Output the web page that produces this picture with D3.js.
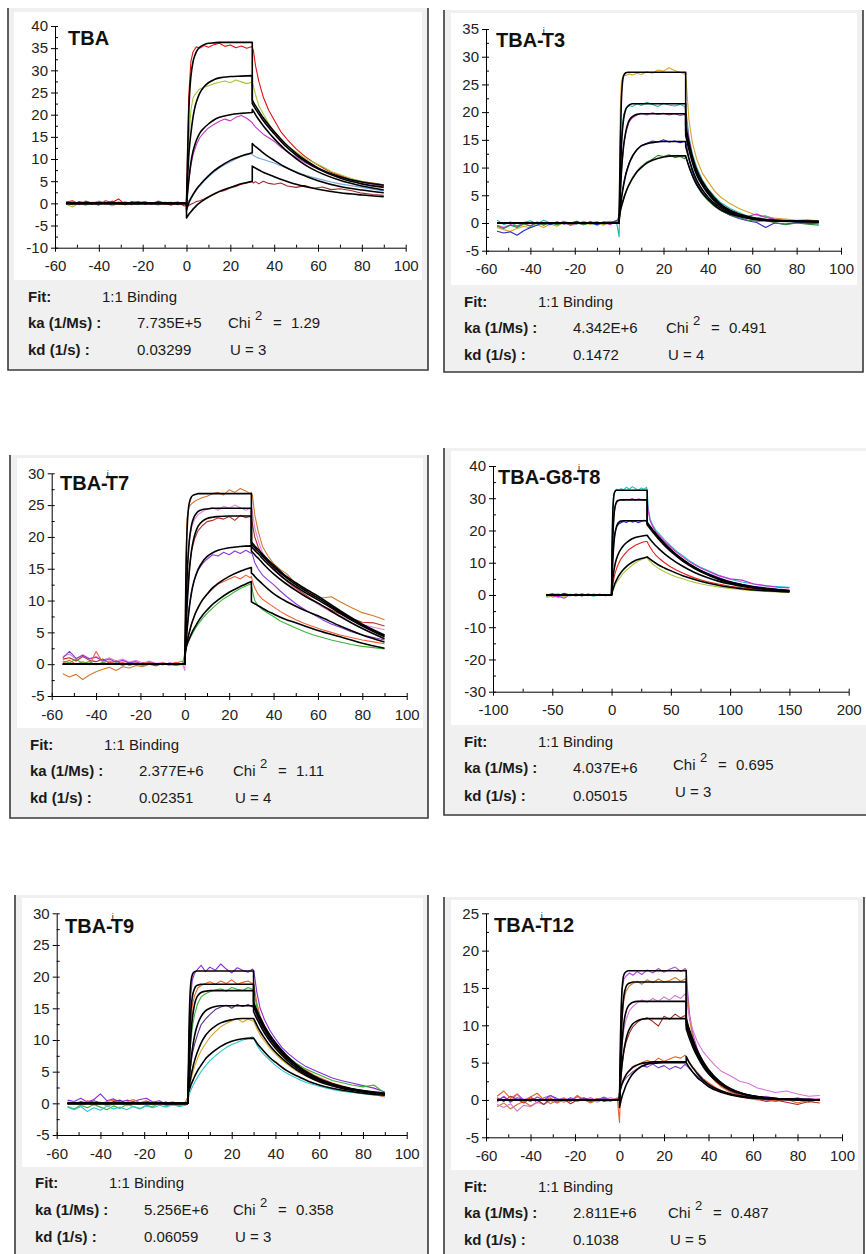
<!DOCTYPE html>
<html>
<head>
<meta charset="utf-8">
<script src="https://cdn.jsdelivr.net/npm/d3@7"></script>
<style>
  body { margin: 0; background: #fff; }
  svg { display: block; }
  text { font-family: "Liberation Sans", Arial, sans-serif; }
</style>
</head>
<body>
<svg id="chart" width="866" height="1254"></svg>
<script>
/**********************
***** TIME GRIDS *****
**********************/
// sampled times (s) of the measured curves
const tData = [-55,-52,-49,-46,-43,-40,-37,-34,-31,-28,-25,-22,-19,-16,-13,-10,-7,-4,-1,
  0,0.5,1,2,3,4.5,6,8,10,12.5,15,17.5,20,22.5,25,27.5,29.5,
  30,30.5,31.5,33,35,37.5,40,43,46,50,54,58,62,66,70,75,80,85,90];
const tData4 = [-55,-50,-45,-40,-35,-30,-25,-20,-15,-10,-5,
  0,0.5,1,2,3,4.5,6,8,10,12.5,15,17.5,20,22.5,25,27.5,29.5,
  30,31,32.5,35,37.5,40,45,50,55,60,65,70,75,80,90,100,110,120,130,140,150];
// times of the fitted curves (association / dissociation)
const tFitOn = [0,0.5,1,1.5,2,3,4,5,6,8,10,12.5,15,20,25,30];
const tFitOff = [30,31,32,33.5,35,37.5,40,45,50,55,60,70,80,90];
const tFitOff4 = [30,31,32.5,35,37.5,40,45,50,60,70,80,90,100,115,130,150];

/**********************
***** TICKS *****
**********************/
const xTicks = [-60,-40,-20,0,20,40,60,80,100];
const xMinor = [-50,-30,-10,10,30,50,70,90];
const xTicks4 = [-100,-50,0,50,100,150,200];
const xMinor4 = [-75,-25,25,75,125,175];
const yTicks1 = [-10,-5,0,5,10,15,20,25,30,35,40];
const yMinor1 = [-7.5,-2.5,2.5,7.5,12.5,17.5,22.5,27.5,32.5,37.5];
const yTicks2 = [-5,0,5,10,15,20,25,30,35];
const yMinor2 = [-2.5,2.5,7.5,12.5,17.5,22.5,27.5,32.5];
const yTicks3 = [-5,0,5,10,15,20,25,30];
const yMinor3 = [-2.5,2.5,7.5,12.5,17.5,22.5,27.5];
const yTicks4 = [-30,-20,-10,0,10,20,30,40];
const yMinor4 = [-25,-15,-5,5,15,25,35];
const yTicks6 = [-5,0,5,10,15,20,25];
const yMinor6 = [-2.5,2.5,7.5,12.5,17.5,22.5];

/**********************
***** TEXTS *****
**********************/
const titleMain = ["TBA", "TBA-", "TBA-", "TBA-G8-", "TBA-", "TBA-"];
const titleMod = ["", "T3", "T7", "T8", "T9", "T12"];
const fitModel = ["1:1 Binding","1:1 Binding","1:1 Binding","1:1 Binding","1:1 Binding","1:1 Binding"];
const kaValues = ["7.735E+5", "4.342E+6", "2.377E+6", "4.037E+6", "5.256E+6", "2.811E+6"];
const kdValues = ["0.03299", "0.1472", "0.02351", "0.05015", "0.06059", "0.1038"];
const chi2Values = ["1.29", "0.491", "1.11", "0.695", "0.358", "0.487"];
const uValues = ["3", "4", "4", "3", "3", "5"];

/**********************
***** TBA *****
**********************/
const tbaData = [
  [0.3,0.6,-0.2,0.5,0.1,-0.4,0.6,0.2,1.0,-0.3,0.4,0.0,0.3,-0.2,0.5,0.1,-0.4,0.3,-0.6, -0.5,12,24,32,34.2,35.3,35.0,35.6,35.2,35.8,36.1,35.4,35.7,35.1,35.5,35.0,35.3, 35.2,34.5,31,27.5,24,21,18.8,16.2,14.4,12.3,10.6,9.2,8.1,7.0,6.3,5.5,4.9,4.6,4.2],
  [-0.2,-0.8,0.1,-0.5,0.3,-0.3,0.2,-0.6,0.1,0.4,-0.2,0.3,-0.1,0.2,-0.4,0.1,0.3,-0.2,0.0, 0.2,6,14,21,23.8,25.0,25.8,26.2,26.5,27.0,27.3,27.6,27.2,27.8,27.4,27.0,27.3, 27.2,26.5,24.5,22.0,20.2,18.0,16.2,14.5,13.0,11.6,10.2,9.2,8.3,7.2,6.5,5.6,5.0,4.5,4.0],
  [0.1,0.4,-0.3,0.2,-0.1,0.5,0.0,-0.2,0.3,0.1,-0.3,0.2,0.4,-0.1,0.2,-0.2,0.1,0.3,-0.1, 0.3,2.5,5,8.5,11,13.2,14.8,16.0,17.0,17.8,18.5,19.0,18.6,19.4,19.8,19.2,18.4, 18.2,17.8,17.2,16.5,15.6,14.8,14.0,12.7,11.6,10.4,9.2,8.2,7.4,6.6,6.0,5.3,4.8,4.3,3.8],
  [0.0,0.3,0.1,-0.3,0.2,0.4,-0.1,0.2,-0.2,0.3,0.0,-0.3,0.2,0.1,-0.2,0.3,0.0,-0.1,0.2, 0.0,0.3,0.6,1.3,2.0,3.0,3.9,5.0,6.0,7.0,8.0,8.7,9.4,10.0,10.6,10.9,11.2, 11.0,10.8,10.5,10.2,9.9,9.5,9.1,8.5,7.9,7.1,6.4,5.8,5.3,4.8,4.4,4.0,3.6,3.2,2.8],
  [0.2,-0.3,0.4,0.1,-0.2,0.3,-0.1,0.5,0.0,-0.3,0.2,0.4,-0.2,0.1,0.3,-0.1,0.2,-0.3,0.1, 0.0,-0.3,-0.5,-0.2,0.0,0.4,0.6,1.0,1.5,2.0,2.6,2.9,3.5,3.8,4.3,4.6,4.8, 4.9,4.6,4.9,4.4,5.0,4.5,4.3,4.6,3.9,3.6,4.0,3.4,3.7,3.1,3.3,2.9,2.3,2.0,1.8]
];
const tbaFitOn = [
  [0,11,20,25.5,28.6,32,33.6,34.6,35.2,35.8,36.1,36.2,36.3,36.3,36.3,36.3],
  [0,6,10.5,13.5,15.8,19.5,22,23.6,24.8,26.3,27.2,27.9,28.3,28.6,28.7,28.8],
  [-0.5,2.5,5,7.3,9.2,11.8,13.5,14.8,15.8,17.0,17.9,18.8,19.4,20.0,20.3,20.5],
  [-1.5,-0.7,0.0,0.6,1.1,2.0,2.8,3.5,4.1,5.2,6.2,7.3,8.2,9.7,10.7,11.4],
  [-3.3,-2.9,-2.5,-2.2,-1.9,-1.3,-0.8,-0.3,0.1,0.8,1.4,2.1,2.7,3.6,4.4,5.0]
];
const tbaFitOff = [
  [23.3,22.4,21.6,20.4,19.3,17.7,16.2,13.5,11.3,9.5,8.0,6.0,4.8,4.1],
  [22.5,21.7,20.9,19.8,18.7,17.1,15.7,13.0,10.9,9.2,7.8,5.7,4.4,3.6],
  [21.2,20.4,19.6,18.5,17.5,16.0,14.6,12.1,10.1,8.4,7.1,5.2,3.9,3.0],
  [13.5,13.0,12.6,12.0,11.4,10.5,9.7,8.2,7.0,6.0,5.1,3.8,3.0,2.4],
  [8.4,8.1,7.8,7.4,7.0,6.5,6.0,5.1,4.3,3.7,3.2,2.4,1.9,1.5]
];

/**********************
***** TBA-iT3 *****
**********************/
const t3Data = [
  [-0.8,-1.2,-1.5,-1.0,-0.6,-0.9,-0.3,-0.8,-0.2,-0.6,0.1,-0.4,-0.2,0.3,-0.3,0.1,-0.4,0.2,0.3, 0.5,20,25.5,26.8,26.6,26.9,26.7,27.0,26.8,27.3,27.0,27.6,27.4,28.0,27.5,27.2,26.9, 26.5,24,18.5,14.5,11.5,9.0,7.5,5.8,4.6,3.5,2.6,2.0,1.4,1.2,0.9,0.7,0.5,0.6,0.3],
  [0.5,-0.3,0.2,-0.6,0.1,0.4,-0.2,0.5,0.0,-0.3,0.3,0.0,-0.2,0.2,0.0,-0.4,0.1,0.3,-0.2, -2.5,9,15,19.5,20.6,21.2,21.0,21.5,21.2,21.8,21.4,21.0,21.6,21.3,21.1,21.4,21.0, 20.5,19,15.5,12.5,10.0,7.8,6.2,4.8,3.6,2.6,1.9,1.2,0.9,1.3,0.6,0.4,0.2,0.0,-0.2],
  [-0.4,-0.8,-0.3,-0.6,-0.1,-0.5,0.2,-0.3,0.1,-0.2,0.2,-0.4,0.0,-0.3,0.3,-0.2,0.1,-0.3,0.4, 0.5,5,9,14,16.2,18.3,19.0,19.5,19.8,19.5,19.9,19.6,19.8,19.5,19.7,19.4,19.6, 19.2,18,15,12,9.5,7.3,5.7,4.3,3.2,2.3,1.6,1.2,1.6,1.0,0.7,0.5,0.3,0.4,0.1],
  [-1.5,-1.8,-1.6,-2.2,-1.4,-0.8,-0.4,0.1,-0.3,0.2,-0.2,0.0,0.3,-0.2,0.1,-0.3,0.2,0.0,0.5, 0.8,2.5,4.5,7,9,10.8,12.2,13.2,14.0,14.4,14.8,14.6,15.0,14.6,14.8,14.5,14.7, 14.5,13.8,11.5,9.2,7.2,5.5,4.3,3.0,2.2,1.4,0.8,0.4,0.1,-0.8,0.0,-0.2,0.1,-0.1,0.0],
  [-0.6,-1.0,-0.4,-0.8,-0.2,-0.6,0.0,-0.4,0.1,-0.3,0.0,-0.2,0.1,-0.3,0.0,0.2,-0.2,0.1,0.0, 1.5,2.3,3.0,4.5,5.6,7.0,8.2,9.3,10.2,11.0,11.5,12.2,12.0,12.3,11.8,12.0,11.6, 12.0,11.4,10.2,8.5,6.8,5.2,4.1,3.0,2.2,1.5,1.0,0.5,0.3,0.4,0.1,-0.3,0.0,-0.2,-0.4]
];
const t3FitOn = [
  [0,14,22,25.3,26.5,27.1,27.2,27.2,27.2,27.2,27.2,27.2,27.2,27.2,27.2,27.2],
  [0,8,13.5,16.8,18.7,20.5,21.1,21.4,21.5,21.5,21.5,21.5,21.5,21.5,21.5,21.5],
  [0,5,9,11.8,13.8,16.5,18.0,18.8,19.2,19.6,19.7,19.7,19.7,19.7,19.7,19.7],
  [0.5,2.5,4.2,5.6,6.8,8.7,10.1,11.2,12.0,13.2,13.9,14.3,14.5,14.7,14.7,14.7],
  [1.0,2.0,2.9,3.6,4.3,5.5,6.5,7.3,8.0,9.2,10.0,10.8,11.3,11.9,12.1,12.1]
];
const t3FitOff = [
  [17.5,15.5,13.6,11.3,9.5,7.5,6.0,3.7,2.3,1.5,1.0,0.5,0.35,0.3],
  [16.5,14.6,12.9,10.7,9.0,7.1,5.6,3.4,2.1,1.4,0.9,0.45,0.3,0.25],
  [15.8,14.0,12.4,10.3,8.6,6.8,5.3,3.2,2.0,1.3,0.85,0.4,0.3,0.25],
  [13.8,12.3,10.9,9.1,7.7,6.0,4.7,2.9,1.8,1.2,0.8,0.4,0.3,0.25],
  [12.0,10.8,9.6,8.1,6.9,5.4,4.3,2.6,1.6,1.1,0.7,0.35,0.25,0.2]
];

/**********************
***** TBA-iT7 *****
**********************/
const t7Data = [
  [-1.5,-2.0,-1.6,-2.4,-1.7,-1.2,-0.8,-0.5,-1.0,-0.4,-0.6,-0.2,-0.4,0.0,-0.3,0.1,-0.2,0.2,0.5, 0.0,16,23,24.8,25.2,25.6,25.9,26.2,26.4,26.8,27.0,26.6,27.4,27.0,27.6,27.2,26.8, 27.0,26.5,23.5,21.0,18.5,17.0,15.8,14.9,14.2,12.6,11.8,11.0,10.4,10.6,9.8,8.9,8.1,7.6,7.0],
  [1.2,1.6,0.8,1.5,0.9,1.2,0.6,1.0,0.5,0.8,0.3,0.6,0.2,0.5,0.1,0.3,-0.1,0.2,0.0, -1.0,8,14.5,19.5,21.5,22.8,23.5,24.0,24.4,24.6,24.2,24.8,24.5,25.0,24.6,24.2,24.5, 24.5,23.8,21.5,19.5,17.5,16.2,15.2,14.1,13.1,11.8,10.8,9.9,9.0,8.2,7.6,6.9,6.2,5.8,5.4],
  [0.8,1.0,0.5,1.2,0.6,0.4,0.8,0.2,0.5,0.0,0.3,-0.1,0.2,0.0,-0.2,0.1,0.0,-0.2,0.1, 0.0,5,10,15,17.8,19.8,21.0,21.8,22.4,22.6,23.0,22.8,23.2,22.6,23.4,23.0,23.2, 23.0,22.0,20.0,18.5,17.0,16.0,15.0,14.0,13.0,12.0,11.0,10.0,9.2,8.5,7.9,7.2,6.6,6.5,6.0],
  [1.0,2.0,0.9,1.4,0.8,1.1,0.5,0.8,0.3,0.6,0.2,0.4,0.0,0.3,0.1,-0.1,0.2,0.0,-0.1, 0.5,3,5.5,9,11.5,13.5,14.8,15.8,16.5,17.2,17.0,17.6,17.2,17.8,17.4,17.9,17.5, 17.5,17.2,16.0,15.0,14.0,13.2,12.5,11.5,10.6,9.5,8.6,7.8,7.0,6.3,5.8,5.1,4.6,4.2,3.8],
  [0.2,0.6,0.0,0.4,-0.1,2.0,0.3,0.5,0.0,0.3,-0.2,0.2,0.0,0.4,-0.1,0.2,0.0,0.3,0.0, 1.0,2.5,3.5,5,6.2,7.8,9.0,10.2,11.0,11.8,12.6,13.0,13.4,13.8,13.4,14.0,13.6, 13.8,13.0,12.0,11.0,10.2,9.6,9.0,8.3,7.7,7.0,6.4,5.9,5.4,5.0,4.6,4.2,3.8,3.5,3.2],
  [0.5,0.2,0.8,0.1,0.4,-0.1,0.3,0.0,0.2,-0.2,0.1,0.0,-0.2,0.1,0.0,-0.1,0.1,-0.2,0.0, 1.8,2.2,3.0,3.8,4.5,5.5,6.3,7.2,8.0,8.8,9.6,10.3,10.8,11.4,11.9,12.3,12.6, 12.6,11.5,10.0,9.2,8.6,8.0,7.5,6.8,6.3,5.7,5.1,4.6,4.2,3.8,3.5,3.1,2.8,2.6,2.4]
];
const t7FitOn = [
  [0,14,21,24,25.3,26.3,26.6,26.7,26.8,26.8,26.8,26.8,26.8,26.8,26.8,26.8],
  [0,8,13.5,17,19.3,21.8,23.0,23.6,24.0,24.3,24.4,24.5,24.5,24.5,24.5,24.5],
  [0,5,9,12,14.5,17.8,19.7,20.9,21.7,22.5,22.9,23.1,23.2,23.3,23.3,23.3],
  [0.5,3,5.3,7.2,8.8,11.2,12.9,14.0,14.9,16.1,16.9,17.5,17.9,18.3,18.5,18.6],
  [1.5,2.5,3.5,4.3,5.0,6.3,7.3,8.2,8.9,10.1,11.0,12.0,12.7,13.8,14.6,15.2],
  [2.0,2.6,3.1,3.6,4.0,4.8,5.5,6.1,6.7,7.7,8.5,9.4,10.1,11.3,12.2,13.0]
];
const t7FitOff = [
  [19.2,18.8,18.4,17.9,17.3,16.4,15.6,14.0,12.8,11.7,10.7,8.4,6.3,4.6],
  [18.9,18.5,18.1,17.6,17.0,16.1,15.3,13.8,12.5,11.4,10.4,8.2,6.1,4.5],
  [18.5,18.1,17.7,17.2,16.6,15.7,14.9,13.4,12.2,11.1,10.1,8.0,6.0,4.3],
  [17.8,17.4,17.0,16.5,15.9,15.0,14.2,12.8,11.6,10.5,9.6,7.5,5.6,4.0],
  [14.3,14.0,13.6,13.1,12.6,11.8,11.1,10.0,9.1,8.3,7.6,6.0,4.6,3.5],
  [9.8,9.6,9.4,9.1,8.8,8.3,7.9,7.1,6.5,5.9,5.3,4.3,3.3,2.5]
];

/**********************
***** TBA-G8-iT8 *****
**********************/
const t8Data = [
  [-0.5,0.3,-0.8,0.2,-0.3,0.4,-0.2,0.1,-0.4,0.2,-0.1, 0.0,18,27,31.5,32.2,32.8,32.4,33.0,32.6,33.4,32.8,33.6,33.0,32.4,33.2,32.8,33.4, 32.5,27,23.5,21.5,20.0,19.0,17.0,15.2,13.5,12.2,10.8,9.6,8.6,7.8,6.2,4.9,4.0,3.4,2.8,2.6,2.4],
  [0.2,-0.6,-0.4,-1.0,0.1,-0.3,0.3,-0.2,0.2,-0.1,0.0, 0.0,10,18,25,27.5,28.8,29.2,29.6,29.3,29.7,29.5,29.9,29.4,29.8,29.6,29.3,29.7, 29.5,26,23.0,21.0,19.5,18.5,16.5,14.8,13.2,11.8,10.5,9.4,8.4,7.6,6.0,5.0,4.6,3.4,2.9,2.4,2.2],
  [0.0,0.4,-0.2,0.5,0.0,0.2,-0.3,0.3,0.0,0.2,-0.2, 0.0,6,11,17,19.5,21.3,22.0,22.4,22.8,22.5,23.0,22.6,22.9,22.4,22.8,23.2,22.9, 22.8,22.0,21.0,19.5,18.4,17.4,15.5,13.8,12.3,11.0,9.8,8.7,7.7,6.9,5.4,4.2,3.3,2.7,2.2,1.8,1.5],
  [-0.3,0.1,0.3,-0.2,0.2,0.0,0.3,-0.1,0.2,0.0,0.1, 0.0,1.5,3,5.2,6.8,8.5,9.8,11.2,12.2,13.3,14.2,14.8,15.4,15.8,16.2,16.5,16.6, 16.6,15.8,14.8,13.4,12.3,11.4,9.9,8.7,7.7,6.8,6.0,5.3,4.7,4.2,3.4,2.7,2.2,1.8,1.5,1.3,1.1],
  [-0.8,-0.3,0.0,-0.5,0.1,-0.2,0.2,0.0,-0.3,0.1,0.0, 0.0,0.6,1.2,2.2,3.0,4.0,4.8,5.8,6.8,7.7,8.5,9.3,9.9,10.5,10.9,11.3,11.6, 11.5,11.0,10.4,9.5,8.8,8.1,7.1,6.3,5.6,5.0,4.4,3.9,3.5,3.1,2.5,2.0,1.6,1.3,1.1,0.9,0.8]
];
const t8FitOn = [
  [0,16,25,29,31,32.2,32.5,32.5,32.5,32.5,32.5,32.5,32.5,32.5,32.5,32.5],
  [0,10,17,21.5,24.5,27.5,28.7,29.2,29.4,29.5,29.5,29.5,29.5,29.5,29.5,29.5],
  [0,6,10.5,13.8,16.2,19.3,21.0,22.0,22.5,22.9,23.0,23.0,23.0,23.0,23.0,23.0],
  [0,2.5,4.5,6.2,7.6,9.6,11.0,12.1,13.0,14.3,15.3,16.2,16.9,17.8,18.2,18.5],
  [0,0.8,1.5,2.1,2.7,3.7,4.5,5.2,5.9,7.0,7.9,8.8,9.6,10.7,11.3,11.8]
];
const t8FitOff = [
  [22.5,22.0,21.3,20.1,19.0,17.9,15.9,14.1,11.0,8.6,6.7,5.2,4.0,2.8,2.0,1.3],
  [22.2,21.7,21.0,19.8,18.7,17.6,15.6,13.8,10.8,8.4,6.5,5.0,3.9,2.7,1.9,1.2],
  [21.8,21.3,20.6,19.4,18.3,17.2,15.2,13.5,10.5,8.2,6.4,4.9,3.8,2.6,1.9,1.2],
  [18.5,18.0,17.3,16.2,15.2,14.3,12.7,11.3,8.9,7.0,5.5,4.3,3.4,2.4,1.7,1.1],
  [11.8,11.5,11.1,10.4,9.8,9.2,8.3,7.5,6.0,4.8,3.8,3.0,2.4,1.7,1.3,0.9]
];

/**********************
***** TBA-iT9 *****
**********************/
const t9Data = [
  [0.5,0.3,0.8,0.2,0.6,1.5,0.4,0.7,0.2,0.5,0.3,0.6,0.8,0.2,0.4,-0.2,0.0,-0.3,0.2, 1.0,10,16,19.5,20.5,21.2,21.8,20.8,21.5,21.0,22.0,21.2,20.6,21.4,21.0,20.7,21.2, 21.0,20,17.5,15.0,13.2,11.5,10.2,8.8,7.8,6.7,5.8,5.2,4.6,4.0,3.6,3.2,2.8,2.4,1.8],
  [0.0,0.3,-0.2,0.4,0.1,-0.1,0.3,0.5,0.0,0.2,0.6,0.1,0.4,-0.1,0.2,0.0,-0.3,0.1,-0.2, 1.0,7,11.5,15.5,17.0,18.2,18.6,18.9,19.2,18.8,19.3,18.9,19.5,18.8,19.1,19.3,18.9, 19.0,18,15.8,13.8,12.2,10.6,9.4,8.2,7.2,6.1,5.2,4.4,3.8,3.2,2.8,2.3,1.8,1.4,1.0],
  [-0.5,-0.9,-0.3,-0.7,-0.2,-0.6,-1.0,-0.4,-0.8,-0.2,-0.5,-0.9,-0.3,-0.6,0.2,-0.4,-0.1,-0.5,0.0, 0.8,5,8.5,12,14.0,15.8,16.8,17.3,17.6,17.9,18.1,17.7,18.3,18.0,17.8,18.3,18.0, 18.0,17,15.2,13.4,11.8,10.4,9.3,8.2,7.3,6.2,5.4,4.8,4.2,3.6,3.3,2.9,2.6,2.9,1.6],
  [0.2,-0.1,0.3,0.0,0.4,0.1,-0.2,0.3,0.5,0.0,0.2,-0.1,0.3,0.1,0.0,0.2,-0.2,0.1,0.0, 1.0,3.2,5.2,7.8,9.3,11.0,12.4,13.3,14.0,14.8,15.2,15.5,15.0,15.6,15.3,15.6,15.2, 15.3,14.8,13.8,12.6,11.4,10.1,9.0,7.9,6.9,5.8,4.9,4.2,3.6,3.1,2.7,2.3,2.0,1.7,1.4],
  [-0.2,0.1,-0.4,0.0,-0.3,0.2,-0.5,-0.1,0.1,-0.4,0.0,-0.2,0.2,-0.3,0.0,-0.1,0.3,-0.2,0.0, 1.0,2.0,3.0,4.6,5.8,7.2,8.3,9.4,10.4,11.3,12.1,12.6,13.0,13.4,12.8,13.3,13.0, 13.0,12.6,11.8,10.8,9.8,8.7,7.8,6.8,6.0,5.0,4.3,3.7,3.2,2.8,2.4,2.1,1.8,1.6,1.3],
  [-0.6,-1.0,-0.5,-1.3,-0.7,-1.1,-0.4,-0.9,-0.6,-1.0,-0.5,-0.8,-0.4,-0.7,-0.3,-0.6,-0.2,-0.5,-0.3, 0.5,1.2,1.8,2.6,3.3,4.2,5.0,5.9,6.7,7.5,8.2,8.8,9.3,9.6,10.0,10.2,10.5, 10.3,10.0,9.2,8.4,7.6,6.8,6.0,5.2,4.6,3.9,3.3,2.9,2.5,2.2,1.9,1.7,1.5,1.3,1.2]
];
const t9FitOn = [
  [1.0,12,17.5,19.5,20.3,20.8,20.9,20.9,20.9,20.9,20.9,20.9,20.9,20.9,20.9,20.9],
  [1.0,8,12.8,15.3,16.8,18.1,18.6,18.7,18.8,18.8,18.8,18.8,18.8,18.8,18.8,18.8],
  [1.0,5.5,9,11.6,13.4,15.6,16.7,17.2,17.5,17.7,17.8,17.8,17.8,17.8,17.8,17.8],
  [1.2,3.5,5.5,7.2,8.5,10.6,12.0,13.0,13.7,14.6,15.0,15.3,15.4,15.4,15.4,15.4],
  [1.5,2.6,3.6,4.5,5.3,6.7,7.8,8.7,9.5,10.7,11.5,12.2,12.7,13.2,13.4,13.4],
  [1.5,2.0,2.5,3.0,3.4,4.2,4.9,5.5,6.0,7.0,7.7,8.4,9.0,9.8,10.2,10.3]
];
const t9FitOff = [
  [16.0,15.1,14.3,13.2,12.2,10.8,9.6,7.6,6.0,4.8,3.9,2.7,2.0,1.6],
  [15.6,14.8,14.0,12.9,11.9,10.5,9.3,7.4,5.9,4.7,3.8,2.6,1.9,1.5],
  [15.3,14.5,13.7,12.6,11.7,10.3,9.1,7.2,5.8,4.6,3.7,2.6,1.9,1.5],
  [14.5,13.7,13.0,12.0,11.1,9.8,8.7,6.9,5.5,4.4,3.6,2.5,1.9,1.5],
  [13.4,12.7,12.0,11.1,10.3,9.1,8.1,6.5,5.2,4.2,3.4,2.4,1.8,1.4],
  [10.3,9.8,9.3,8.7,8.1,7.2,6.5,5.2,4.3,3.5,2.9,2.1,1.6,1.3]
];

/**********************
***** TBA-iT12 *****
**********************/
const t12Data = [
  [-0.3,0.5,-0.2,0.8,0.0,0.4,-0.4,0.3,0.6,0.0,0.3,-0.2,0.5,0.1,0.3,-0.1,0.4,0.0,0.2, 0.0,10,14.5,16.2,16.6,17.0,16.7,17.2,16.8,17.4,17.0,17.6,17.1,17.5,17.8,17.2,17.6, 17.4,15,11.5,8.8,6.8,5.0,3.8,2.6,1.8,1.1,0.6,0.4,0.3,0.5,0.2,0.0,0.3,-0.1,0.2],
  [-0.9,-0.4,-1.2,-0.6,-0.2,-0.8,-0.3,0.1,-0.5,0.0,-0.3,0.2,-0.2,0.1,-0.4,0.0,0.2,-0.1,0.1, 0.0,6.5,10.5,13.5,14.6,15.3,15.6,15.9,15.5,16.1,15.7,16.2,15.8,16.0,16.4,15.9,16.2, 16.0,14,10.8,8.3,6.4,4.8,3.6,2.5,1.7,1.0,0.6,0.2,0.4,0.0,-0.2,0.2,0.0,-0.3,0.1],
  [-0.6,-1.0,-0.5,-1.5,-0.7,-0.9,-0.3,-0.6,-0.1,-0.4,0.2,-0.2,0.4,0.0,0.2,-0.3,0.1,0.3,0.0, 0.0,4,7,9.5,10.8,12.0,12.5,13.0,13.4,13.1,13.6,13.2,13.8,13.4,14.0,13.6,14.2, 14.0,12.8,11.0,9.3,7.8,6.5,5.6,4.6,3.8,3.2,2.5,2.2,1.6,1.3,1.0,1.2,0.8,0.5,0.6],
  [0.3,-0.2,0.5,0.1,-0.4,0.3,0.0,-0.6,0.2,-0.3,0.1,-0.5,0.0,0.3,-0.1,0.2,-0.2,0.0,0.1, 0.0,2.5,4.3,6.5,7.8,9.0,9.8,10.4,10.8,11.0,10.5,9.9,11.2,10.8,11.5,11.0,11.3, 11.2,10.5,8.8,7.3,5.9,4.6,3.6,2.6,1.9,1.2,0.7,0.4,0.1,-0.2,0.0,-0.3,-0.6,-0.2,-0.4],
  [0.5,1.2,0.2,0.8,-0.3,0.4,0.9,0.0,0.3,-0.4,0.2,-0.2,0.6,0.0,-0.3,0.2,0.0,-0.2,0.3, -3.0,1.8,2.4,2.9,3.4,3.9,4.3,4.6,5.0,5.3,5.0,5.6,5.2,5.5,5.8,5.6,6.0, 5.8,5.5,5.0,4.4,3.7,2.9,2.3,1.7,1.2,0.8,0.4,0.2,0.0,0.3,-0.2,0.1,-0.4,0.0,-0.1],
  [0.0,0.4,-0.3,0.3,0.1,-0.2,0.4,0.0,0.6,0.2,-0.1,0.3,0.0,0.2,-0.2,0.1,0.3,0.0,0.1, 0.5,1.5,2.0,2.6,3.0,3.4,3.8,4.2,4.6,4.4,4.8,4.3,4.6,4.1,4.5,4.2,4.8, 4.6,4.5,4.2,3.7,3.2,2.6,2.0,1.5,1.1,0.7,0.5,0.2,0.3,0.0,0.2,0.1,0.0,0.2,0.0]
];
const t12FitOn = [
  [0,9,14,16,16.8,17.2,17.3,17.3,17.3,17.3,17.3,17.3,17.3,17.3,17.3,17.3],
  [0,6,10,12.6,14.0,15.2,15.6,15.7,15.8,15.8,15.8,15.8,15.8,15.8,15.8,15.8],
  [0,4,7,9,10.4,11.9,12.6,12.9,13.1,13.2,13.2,13.2,13.2,13.2,13.2,13.2],
  [0,2.5,4.3,5.7,6.7,8.2,9.2,9.8,10.2,10.6,10.8,10.9,10.9,10.9,10.9,10.9],
  [0.8,1.5,2.0,2.4,2.8,3.4,3.8,4.1,4.4,4.7,4.9,5.0,5.1,5.1,5.1,5.1],
  [-1.0,-0.3,0.3,0.8,1.2,2.0,2.6,3.1,3.5,4.1,4.5,4.8,4.9,5.0,5.0,5.0]
];
const t12FitOff = [
  [10.8,9.8,8.9,7.7,6.6,5.2,4.1,2.5,1.5,0.9,0.55,0.2,0.08,0.03],
  [10.5,9.5,8.6,7.4,6.4,5.0,3.9,2.4,1.45,0.88,0.53,0.2,0.08,0.03],
  [10.0,9.1,8.2,7.1,6.1,4.8,3.7,2.3,1.4,0.85,0.5,0.19,0.07,0.03],
  [9.5,8.6,7.8,6.7,5.8,4.5,3.5,2.2,1.3,0.8,0.48,0.18,0.07,0.02],
  [5.8,5.2,4.7,4.1,3.5,2.7,2.1,1.3,0.8,0.48,0.29,0.11,0.04,0.01],
  [5.0,4.5,4.1,3.5,3.0,2.4,1.8,1.1,0.68,0.41,0.25,0.09,0.03,0.01]
];

/*****************************
***** PANEL LAYOUT/STYLE *****
*****************************/
const panels = [
  { box: [8, 8, 428, 370], plot: [14, 12, 422, 280], xr: [55, 405.7], yr: [247.7, 26],
    xd: [-60, 100], yd: [-10, 40], xt: xTicks, xm: xMinor, yt: yTicks1, ym: yMinor1,
    title: [68, 45], info: [28, 302, 328, 355], chiX: 228, chiDy: 0, uDy: 0,
    t: tData, data: tbaData, on: tbaFitOn, off: tbaFitOff, tOff: tFitOff,
    colors: ["#e30f0f", "#a6c63a", "#c43cc4", "#78a8e0", "#a02a2a"] },
  { box: [444, 10, 863, 372], plot: [451, 13, 857, 285], xr: [486, 841], yr: [250.7, 29],
    xd: [-60, 100], yd: [-5, 35], xt: xTicks, xm: xMinor, yt: yTicks2, ym: yMinor2,
    title: [496, 46.5], info: [464, 307, 333, 360], chiX: 666, chiDy: 0, uDy: 0,
    t: tData, data: t3Data, on: t3FitOn, off: t3FitOff, tOff: tFitOff,
    colors: ["#d8a52a", "#22b4b4", "#c232c2", "#2828c8", "#2e8a2e"] },
  { box: [10, 455, 428, 818], plot: [17, 458, 423, 728], xr: [51.7, 406.7], yr: [696, 473.3],
    xd: [-60, 100], yd: [-5, 30], xt: xTicks, xm: xMinor, yt: yTicks3, ym: yMinor3,
    title: [60, 490], info: [30, 750, 776, 803], chiX: 233, chiDy: 0, uDy: 0,
    t: tData, data: t7Data, on: t7FitOn, off: t7FitOff, tOff: tFitOff,
    colors: ["#d27a2c", "#e284e2", "#b8302c", "#8a3ad8", "#f0603a", "#3cb43c"] },
  { box: [444, 448, 870, 815], plot: [451, 451, 870, 725], xr: [493, 848.7], yr: [691.7, 466],
    xd: [-100, 200], yd: [-30, 40], xt: xTicks4, xm: xMinor4, yt: yTicks4, ym: yMinor4,
    title: [498, 484], info: [464, 747, 773, 801], chiX: 673, chiDy: -3, uDy: -4,
    t: tData4, data: t8Data, on: t8FitOn, off: t8FitOff, tOff: tFitOff4,
    colors: ["#1ec6c8", "#cc2ecc", "#2a2ac8", "#e42020", "#a6c83a"] },
  { box: [15, 895, 428, 1262], plot: [22, 898, 423, 1167], xr: [56.7, 406.7], yr: [1135, 913.3],
    xd: [-60, 100], yd: [-5, 30], xt: xTicks, xm: xMinor, yt: yTicks3, ym: yMinor3,
    title: [65, 932.5], info: [35, 1188, 1215, 1242], chiX: 233, chiDy: 0, uDy: 0,
    t: tData, data: t9Data, on: t9FitOn, off: t9FitOff, tOff: tFitOff,
    colors: ["#8a2be2", "#f0602a", "#38b038", "#5e2a8a", "#d4a830", "#30c4cc"] },
  { box: [444, 897, 864, 1262], plot: [451, 900, 858, 1170], xr: [486, 842], yr: [1137.3, 913.3],
    xd: [-60, 100], yd: [-5, 25], xt: xTicks, xm: xMinor, yt: yTicks6, ym: yMinor6,
    title: [494, 931.5], info: [464, 1192, 1218, 1245], chiX: 668, chiDy: 0, uDy: 0,
    t: tData, data: t12Data, on: t12FitOn, off: t12FitOff, tOff: tFitOff,
    colors: ["#b04ae0", "#d2782a", "#d874d8", "#a82828", "#e8602a", "#7a3ad0"] }
];

const svg = d3.select("#chart");

panels.forEach((p, i) => {
  const g = svg.append("g").attr("class", "panel");

  // frame: gray window with dark left/bottom/right edges
  const [bx0, by0, bx1, by1] = p.box;
  g.append("rect").attr("x", bx0).attr("y", by0).attr("width", bx1 - bx0).attr("height", by1 - by0)
    .attr("fill", "#f0f0f0");
  g.append("path").attr("d", `M${bx0},${by0}V${by1}H${bx1}V${by0}`)
    .attr("fill", "none").attr("stroke", "#3a3a3a").attr("stroke-width", 1.6);
  const [px0, py0, px1, py1] = p.plot;
  g.append("rect").attr("x", px0).attr("y", py0).attr("width", px1 - px0).attr("height", py1 - py0)
    .attr("fill", "#fff");

  // scales
  const x = d3.scaleLinear().domain(p.xd).range(p.xr);
  const y = d3.scaleLinear().domain(p.yd).range(p.yr);

  // x axis
  const ax = g.append("g").attr("transform", `translate(0,${p.yr[0]})`);
  ax.call(d3.axisBottom(x).tickValues(p.xt).tickSize(4).tickPadding(9).tickSizeOuter(0)
    .tickFormat(d => String(d)));
  ax.append("g").call(d3.axisTop(x).tickValues(p.xt.concat(p.xm)).tickSize(3).tickFormat(""))
    .select(".domain").remove();

  // y axis
  const ay = g.append("g").attr("transform", `translate(${p.xr[0]},0)`);
  ay.call(d3.axisLeft(y).tickValues(p.yt).tickSize(4).tickPadding(3).tickSizeOuter(0)
    .tickFormat(d => String(d)));
  ay.append("g").call(d3.axisRight(y).tickValues(p.yt.concat(p.ym)).tickSize(3).tickFormat(""))
    .select(".domain").remove();

  [ax, ay].forEach(a => {
    a.attr("font-family", "Liberation Sans, Arial, sans-serif").attr("font-size", 15);
    a.selectAll("text").attr("fill", "#222");
    a.selectAll("line,path").attr("stroke", "#000");
  });

  // measured curves
  const line = d3.line().x(d => x(d[0])).y(d => y(d[1]));
  g.append("g").selectAll("path")
    .data(p.data)
    .join("path")
    .attr("d", vals => line(p.t.map((t, k) => [t, vals[k]])))
    .attr("fill", "none")
    .attr("stroke", (d, k) => p.colors[k])
    .attr("stroke-width", 1.1)
    .attr("stroke-linejoin", "round");

  // fitted curves: flat baseline, association, dissociation (vertical jumps allowed)
  const smooth = d3.line().x(d => x(d[0])).y(d => y(d[1])).curve(d3.curveMonotoneX);
  const fitPath = k => {
    const base = `M${x(p.t[0])},${y(0)}L${x(0)},${y(0)}`;
    const a = smooth(tFitOn.map((t, j) => [t, p.on[k][j]])).replace(/^M/, "L");
    const b = smooth(p.tOff.map((t, j) => [t, p.off[k][j]])).replace(/^M/, "L");
    return base + a + b;
  };
  g.append("g").selectAll("path")
    .data(p.on)
    .join("path")
    .attr("d", (d, k) => fitPath(k))
    .attr("fill", "none")
    .attr("stroke", "#000")
    .attr("stroke-width", 1.6)
    .attr("stroke-linejoin", "round");

  // title with the small modification mark
  const tt = g.append("text").attr("x", p.title[0]).attr("y", p.title[1])
    .attr("font-size", 20).attr("font-weight", "bold").attr("fill", "#111");
  tt.append("tspan").text(titleMain[i]);
  if (titleMod[i]) {
    tt.append("tspan").attr("font-size", 9).attr("font-weight", "normal")
      .attr("dx", -1).attr("dy", -13).text("i");
    tt.append("tspan").attr("dx", -3).attr("dy", 13).text(titleMod[i]);
  }

  // fit report
  const [ix, r1, r2, r3] = p.info;
  const info = g.append("g").attr("font-size", 15).attr("fill", "#1a1a1a");
  info.append("text").attr("x", ix).attr("y", r1).attr("font-weight", "bold").text("Fit:");
  info.append("text").attr("x", ix + 74).attr("y", r1).text(fitModel[i]);
  info.append("text").attr("x", ix).attr("y", r2).attr("font-weight", "bold").text("ka (1/Ms) :");
  info.append("text").attr("x", ix + 109).attr("y", r2).text(kaValues[i]);
  info.append("text").attr("x", ix).attr("y", r3).attr("font-weight", "bold").text("kd (1/s) :");
  info.append("text").attr("x", ix + 109).attr("y", r3).text(kdValues[i]);

  const chi = info.append("text").attr("y", r2 + p.chiDy);
  chi.append("tspan").attr("x", p.chiX).text("Chi");
  chi.append("tspan").attr("x", p.chiX + 27).attr("dy", -8).attr("font-size", 13).text("2");
  chi.append("tspan").attr("x", p.chiX + 45).attr("dy", 8).text("=");
  chi.append("tspan").attr("x", p.chiX + 63).text(chi2Values[i]);
  info.append("text").attr("x", p.chiX + 2).attr("y", r3 + p.uDy).text("U = " + uValues[i]);
});
</script>
</body>
</html>
